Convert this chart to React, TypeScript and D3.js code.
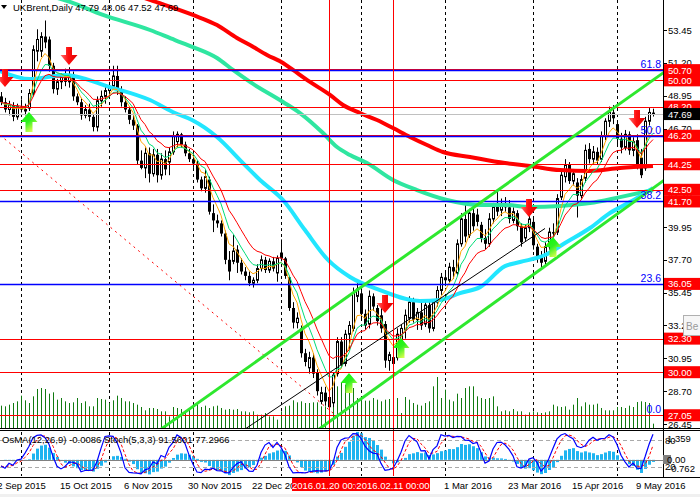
import * as d3 from "d3";

// UKBrent daily, one row per bar: open, high, low, close
const candles: [number, number, number, number][] = [
  [48.9, 49.2, 48.3, 48.5], [48.5, 48.8, 47.8, 48.0], [48.0, 48.6, 47.6, 48.3], [48.3, 48.5, 47.2, 47.5],
  [47.5, 48.4, 47.3, 48.2], [48.2, 48.7, 47.8, 48.0], [47.9, 48.4, 47.6, 48.0], [48.1, 49.4, 47.9, 49.1],
  [49.1, 52.4, 48.9, 52.1], [52.0, 53.5, 51.3, 52.8], [52.0, 53.3, 51.6, 53.0], [53.0, 54.1, 52.2, 52.6],
  [52.8, 53.0, 50.6, 51.0], [51.0, 51.2, 49.1, 49.4], [49.4, 50.1, 49.0, 49.9], [49.9, 50.5, 49.4, 50.2],
  [50.2, 50.8, 49.6, 49.9], [49.9, 50.9, 49.5, 50.4], [50.4, 50.6, 48.6, 48.9], [48.9, 49.1, 48.3, 48.5],
  [48.5, 48.8, 47.3, 47.6], [47.6, 48.3, 47.4, 48.0], [48.0, 48.4, 47.2, 47.5], [47.5, 47.7, 46.5, 46.8],
  [46.8, 48.9, 46.5, 48.6], [48.6, 49.3, 48.2, 48.9], [48.9, 49.6, 48.4, 49.3], [49.3, 49.9, 48.9, 49.6],
  [49.6, 51.0, 49.4, 50.3], [50.3, 51.0, 49.0, 49.3], [49.3, 49.6, 48.2, 48.5], [48.5, 48.9, 47.8, 48.0],
  [48.0, 48.2, 47.0, 47.3], [47.3, 47.6, 46.6, 46.9], [46.9, 47.0, 44.2, 44.5], [44.5, 45.2, 43.9, 44.0],
  [44.0, 45.4, 43.3, 45.0], [45.0, 45.4, 43.0, 43.6], [43.6, 45.3, 43.4, 44.9], [44.9, 45.3, 43.0, 43.5],
  [43.5, 45.0, 43.2, 44.6], [44.6, 45.2, 43.5, 43.9], [44.4, 45.4, 43.5, 45.1], [45.1, 46.5, 44.9, 46.2],
  [45.8, 46.5, 45.4, 46.3], [46.3, 46.4, 45.4, 45.6], [45.6, 45.8, 44.8, 45.0], [45.0, 45.3, 44.4, 44.6],
  [44.6, 45.0, 44.0, 44.3], [44.3, 44.5, 43.0, 43.2], [43.2, 43.4, 42.4, 42.6], [42.6, 43.9, 42.3, 43.4],
  [43.2, 43.4, 40.8, 41.0], [40.9, 41.5, 39.6, 40.4], [40.4, 40.8, 39.9, 40.2], [40.2, 40.4, 39.3, 39.5],
  [39.5, 39.7, 37.4, 37.7], [37.7, 38.3, 36.3, 36.9], [37.6, 39.4, 37.4, 38.3], [38.4, 38.7, 36.8, 37.5],
  [37.5, 37.8, 36.7, 36.9], [36.9, 37.2, 36.3, 36.6], [36.6, 36.9, 35.9, 36.1], [36.1, 36.5, 35.8, 36.3],
  [36.3, 37.4, 36.1, 37.1], [37.1, 38.0, 36.9, 37.7], [37.7, 37.9, 36.8, 37.0], [37.0, 37.8, 36.8, 37.6],
  [37.6, 37.9, 36.9, 37.1], [36.8, 38.0, 36.2, 37.8], [38.2, 39.1, 37.6, 37.8], [37.8, 37.9, 36.4, 36.6],
  [36.5, 36.6, 34.2, 34.4], [34.4, 34.8, 33.0, 33.4], [33.4, 34.1, 33.0, 33.7], [33.0, 33.2, 31.0, 31.3],
  [31.3, 31.6, 30.4, 30.7], [30.3, 31.4, 29.9, 31.0], [31.0, 31.3, 29.6, 29.9], [30.0, 30.2, 28.4, 28.7],
  [28.0, 29.0, 27.8, 28.6], [28.6, 29.0, 27.7, 28.0], [28.3, 28.7, 27.3, 27.6], [27.9, 30.0, 27.6, 29.8],
  [29.9, 32.4, 29.7, 32.1], [32.1, 32.4, 30.3, 30.5], [30.6, 32.9, 30.4, 32.6], [32.6, 33.5, 31.6, 33.2],
  [33.0, 35.8, 32.8, 35.4], [35.2, 36.1, 34.8, 35.7], [35.4, 35.7, 33.6, 34.0], [34.0, 34.3, 32.9, 33.2],
  [33.3, 35.6, 33.0, 35.2], [35.2, 35.4, 34.2, 34.5], [34.4, 34.6, 33.2, 33.5], [33.9, 34.4, 32.7, 33.0],
  [33.3, 33.5, 30.3, 30.8], [30.8, 31.4, 30.1, 31.2], [30.6, 31.2, 30.0, 31.0], [31.0, 33.0, 30.8, 32.6],
  [32.1, 33.3, 31.9, 33.0], [32.9, 34.3, 32.3, 33.9], [33.7, 35.2, 33.4, 34.8], [34.8, 35.1, 33.4, 33.6],
  [33.6, 34.4, 32.9, 34.1], [34.1, 34.8, 32.9, 33.2], [33.3, 34.9, 33.1, 34.6], [34.6, 34.8, 32.7, 33.0],
  [33.0, 35.0, 32.8, 34.8], [34.8, 35.9, 34.5, 35.6], [35.6, 36.8, 35.3, 36.5], [36.5, 37.0, 35.9, 36.3],
  [36.3, 37.5, 36.1, 37.2], [37.2, 37.7, 36.4, 36.9], [36.8, 39.1, 36.6, 38.8], [38.8, 40.9, 38.6, 40.5],
  [40.5, 41.5, 38.9, 39.3], [39.4, 41.2, 39.2, 40.9], [40.9, 41.3, 39.7, 40.0], [40.8, 41.2, 40.0, 40.3],
  [40.1, 40.3, 38.9, 39.2], [39.2, 39.8, 38.4, 38.8], [38.8, 40.9, 38.6, 40.5], [40.5, 41.6, 40.2, 41.3],
  [41.6, 42.5, 40.7, 41.0], [41.1, 41.9, 40.7, 41.5], [41.5, 42.0, 41.0, 41.3], [41.3, 41.8, 40.2, 40.5],
  [40.4, 41.3, 40.2, 41.0], [40.9, 41.1, 39.7, 40.0], [40.0, 40.2, 38.6, 38.9], [39.2, 40.1, 39.0, 39.9],
  [39.9, 40.7, 39.6, 40.5], [40.3, 40.6, 38.4, 38.7], [38.6, 38.8, 37.5, 37.9], [38.0, 38.3, 37.2, 37.5],
  [37.6, 38.9, 37.4, 38.6], [38.6, 39.9, 38.4, 39.6], [39.6, 40.2, 39.0, 39.5], [39.6, 42.2, 39.4, 41.9],
  [42.0, 43.8, 41.8, 43.5], [43.4, 44.6, 43.0, 44.2], [44.2, 44.4, 42.9, 43.1], [43.1, 43.9, 42.8, 43.6],
  [43.0, 43.3, 40.6, 42.1], [42.1, 43.5, 41.9, 43.2], [43.3, 45.6, 43.0, 45.2], [45.3, 45.7, 44.3, 44.6],
  [44.6, 45.5, 44.2, 45.1], [45.1, 45.4, 44.2, 44.5], [44.6, 46.5, 44.4, 46.2], [46.2, 47.4, 45.9, 47.2],
  [47.2, 48.2, 46.8, 47.8], [47.8, 48.3, 47.0, 47.4], [47.0, 47.2, 45.6, 46.0], [46.0, 46.4, 45.0, 45.4],
  [45.4, 46.6, 45.2, 46.3], [46.3, 46.5, 44.9, 45.2], [45.2, 46.1, 44.8, 45.8], [45.9, 46.3, 43.9, 44.1],
  [44.7, 45.3, 43.3, 43.5], [44.0, 47.5, 43.8, 47.2], [47.2, 48.1, 46.9, 47.8], [47.79, 48.06, 47.52, 47.69],
];

// tick volume, one per bar
const volumes = [
  67, 65, 70, 75, 80, 97, 83, 75, 95, 117, 120, 117, 103, 107, 85, 90, 80, 75, 77, 90,
  75, 80, 65, 65, 90, 87, 85, 75, 83, 97, 90, 80, 80, 75, 70, 63, 53, 60, 60, 57,
  50, 50, 35, 63, 60, 57, 47, 55, 65, 75, 63, 67, 60, 65, 67, 60, 55, 57, 55, 57,
  50, 50, 47, 50, 40, 40, 45, 35, 35, 25, 50, 65, 67, 83, 77, 80, 75, 75, 77, 77,
  65, 65, 75, 120, 125, 135, 130, 130, 120, 90, 85, 82, 82, 90, 85, 80, 85, 87, 90, 90,
  45, 93, 85, 75, 70, 67, 75, 80, 125, 153, 90, 115, 85, 80, 103, 90, 120, 125, 125, 95,
  90, 87, 90, 95, 65, 50, 53, 50, 57, 50, 50, 40, 47, 50, 47, 45, 47, 50, 70, 65,
  63, 65, 55, 70, 90, 65, 77, 70, 70, 73, 60, 53, 53, 53, 63, 63, 60, 67, 63, 78,
  80, 78, 75, 13,
];

// slow moving averages, sampled as [bar, price]
const ma200: [number, number][] = [
  [29.75, 56.23], [37.25, 55.51], [48, 54.48], [54, 53.79], [59, 52.9], [62.25, 52.42], [66.5, 51.74],
  [70.5, 51.19], [73, 50.71], [77.25, 49.89], [82.25, 49.0], [85.5, 48.31], [89.75, 47.76], [94, 47.28],
  [98, 46.73], [102.25, 46.12], [106.5, 45.57], [110.5, 45.09], [117.25, 44.75], [126, 44.33],
  [132.25, 44.13], [139.75, 43.85], [147.25, 43.79], [154.75, 43.99], [163, 44.13],
];
const ma100: [number, number][] = [
  [9.75, 55.99], [17.25, 55.37], [25.5, 54.48], [37.25, 53.45], [43.5, 52.76], [48, 52.28], [54, 51.53],
  [58, 50.71], [62.25, 49.89], [70.5, 48.52], [74.75, 47.76], [80.5, 46.39], [84, 45.43], [87.25, 44.88],
  [91.5, 44.33], [98, 43.17], [104, 42.48], [111.5, 41.8], [119.75, 41.46], [126, 41.46], [132.25, 41.32],
  [139.75, 41.39], [147.25, 41.59], [154.75, 42.0], [163, 42.48],
];
const ma50: [number, number][] = [
  [-0.25, 50.64], [7.25, 50.09], [16, 50.37], [27.25, 49.54], [37.25, 48.65], [43.5, 47.76], [47.75, 47.28],
  [54, 46.12], [60.5, 44.33], [64.75, 43.17], [70.5, 41.8], [76, 39.74], [81.75, 37.69], [87.25, 36.52],
  [94.75, 35.63], [104.75, 34.88], [109.75, 34.94], [114.75, 35.42], [119.75, 35.83], [126, 37.27],
  [129.75, 37.55], [136, 38.03], [141, 38.85], [147.25, 39.88], [152.25, 40.91], [157.25, 41.66], [163, 42.62],
];

// drawn lines, ends as [bar, price]
const upperChannel: [number, number][] = [[40, 26.1], [166, 50.6]];
const lowerChannel: [number, number][] = [[79.5, 26.1], [166, 43.2]];
const thinTrend: [number, number][] = [[61, 26.1], [136, 39.85]];
const dashedTrend: [number, number][] = [[-0.25, 46.25], [83, 27.2]];

const redLevels = [50.7, 50.0, 48.2, 46.2, 44.25, 42.5, 32.3, 30.0, 27.05];
const blueLevels = [50.7, 46.2, 41.7, 36.05];
const boxedLevels = [50.7, 50.0, 48.2, 46.2, 44.25, 42.5, 41.7, 36.05, 32.3, 30.0, 27.05];
const fibTexts: [string, number][] = [["61.8", 50.7], ["50.0", 46.2], ["38.2", 41.7], ["23.6", 36.05], ["0.0", 27.05]];
const priceTicks = [26.45, 28.7, 30.95, 33.2, 35.45, 37.7, 39.95, 42.2, 44.45, 46.7, 48.95, 51.2, 53.45];
const lastPrice = 47.69;

const dateLabels: [number, string][] = [
  [-2, "22 Sep 2015"], [15, "15 Oct 2015"], [31, "6 Nov 2015"], [47, "30 Nov 2015"], [63, "22 Dec 2015"],
  [111, "1 Mar 2016"], [127, "23 Mar 2016"], [143, "15 Apr 2016"], [159, "9 May 2016"],
];
const markedDates: [number, string][] = [[82, "2016.01.20 00:00"], [98, "2016.02.11 00:00"]];
const monthStarts = [5, 27, 48, 70, 90, 111, 133, 154];

const downArrows: [number, number][] = [[1, 49.54], [17, 51.05], [96, 34.05], [132, 40.63], [159, 46.73]];
const upArrows: [number, number][] = [[7, 47.83], [87, 29.94], [100, 32.34], [138, 39.26]];

const FONT = "'Liberation Sans', Arial, sans-serif";
const PLOT_R = 663;
const MAIN_B = 428;
const OSC_T = 431;
const OSC_B = 476;

function ema(vals: number[], n: number) {
  const a = 2 / (n + 1);
  let e = vals[0];
  return vals.map((v, i) => (i === 0 ? e : (e = e + a * (v - e))));
}

export default function App() {
  const x = d3.scaleLinear().domain([0, candles.length - 1]).range([1, 653]);
  const y = d3.scaleLinear().domain([26.45, 53.45]).range([424, 30]);
  const yStoch = d3.scaleLinear().domain([0, 100]).range([OSC_B, OSC_T]);
  const yOsma = d3.scaleLinear().domain([-0.762, 1.359]).range([OSC_B, OSC_T]);

  const closes = candles.map((c) => c[3]);
  const highs = candles.map((c) => c[1]);
  const lows = candles.map((c) => c[2]);

  const fast = [
    { vals: ema(closes, 5), color: "#ffa500" },
    { vals: ema(closes, 8), color: "#00dd77" },
    { vals: ema(closes, 13), color: "#ff0000" },
  ];

  // OsMA(12,26,9)
  const e12 = ema(closes, 12);
  const e26 = ema(closes, 26);
  const macd = e12.map((v, i) => v - e26[i]);
  const sig = macd.map((_, i) => d3.mean(macd.slice(Math.max(0, i - 8), i + 1)) as number);
  const osma = macd.map((v, i) => v - sig[i]);

  // Stoch(5,3,3)
  const stK = closes.map((_, i) => {
    let num = 0;
    let den = 0;
    for (let j = Math.max(0, i - 2); j <= i; j++) {
      const lo = d3.min(lows.slice(Math.max(0, j - 4), j + 1)) as number;
      const hi = d3.max(highs.slice(Math.max(0, j - 4), j + 1)) as number;
      num += closes[j] - lo;
      den += hi - lo;
    }
    return den ? (100 * num) / den : 50;
  });
  const stD = stK.map((_, i) => d3.mean(stK.slice(Math.max(0, i - 2), i + 1)) as number);

  const pxLine = d3.line<number>().x((_, i) => x(i)).y((v) => y(v));
  const sampleLine = d3
    .line<[number, number]>()
    .x((d) => x(d[0]))
    .y((d) => y(d[1]));
  const segment = (pts: [number, number][]) => sampleLine.curve(d3.curveLinear)(pts) as string;
  const smooth = (pts: [number, number][]) => sampleLine.curve(d3.curveMonotoneX)(pts) as string;
  const stochLine = d3.line<number>().x((_, i) => x(i)).y((v) => yStoch(v));

  const crisp = (v: number) => Math.round(v) + 0.5;

  const downArrow = (cx: number, ty: number) =>
    `M${cx - 3},${ty - 18}H${cx + 3}V${ty - 10}H${cx + 8.5}L${cx},${ty}L${cx - 8.5},${ty - 10}H${cx - 3}Z`;
  const upArrow = (cx: number, ty: number) =>
    `M${cx},${ty}L${cx + 8.5},${ty + 10}H${cx + 3.5}V${ty + 20}H${cx - 3.5}V${ty + 10}H${cx - 8.5}Z`;

  return (
    <div style={{ position: "fixed", left: 0, top: 0 }}>
      <svg width={700} height={497} style={{ display: "block", background: "#fff" }} fontFamily={FONT}>
        <defs>
          <clipPath id="main">
            <rect x={0} y={0} width={PLOT_R} height={MAIN_B} />
          </clipPath>
          <clipPath id="osc">
            <rect x={0} y={OSC_T} width={PLOT_R} height={OSC_B - OSC_T} />
          </clipPath>
          <linearGradient id="redArr" x1="0" y1="0" x2="1" y2="0">
            <stop offset="0" stopColor="#ff7070" />
            <stop offset="0.45" stopColor="#ff1010" />
            <stop offset="1" stopColor="#e00000" />
          </linearGradient>
          <linearGradient id="greenArr" x1="0" y1="0" x2="0.6" y2="1">
            <stop offset="0" stopColor="#00ff00" />
            <stop offset="0.55" stopColor="#30f020" />
            <stop offset="1" stopColor="#d8ff50" />
          </linearGradient>
        </defs>

        {/* month grid */}
        {monthStarts.map((i) => (
          <line key={i} x1={crisp(x(i))} x2={crisp(x(i))} y1={0} y2={OSC_B} stroke="#000" strokeDasharray="3,3" />
        ))}

        <g clipPath="url(#main)">
          {/* volumes */}
          {volumes.map((v, i) => (
            <line key={i} x1={crisp(x(i))} x2={crisp(x(i))} y1={MAIN_B} y2={MAIN_B - v / 3} stroke="#107a10" />
          ))}

          {/* candles */}
          {candles.map(([o, h, l, c], i) => {
            const cx = Math.round(x(i));
            const up = c >= o;
            const top = y(Math.max(o, c));
            const bh = Math.max(1, y(Math.min(o, c)) - top);
            return (
              <g key={i}>
                <line x1={cx + 0.5} x2={cx + 0.5} y1={y(h)} y2={y(l)} stroke="#000" />
                {up ? (
                  <rect x={cx - 0.5} y={top} width={2} height={bh} fill="#fff" stroke="#000" />
                ) : (
                  <rect x={cx - 1} y={top} width={3} height={bh} fill="#000" />
                )}
              </g>
            );
          })}

          {/* slow averages */}
          <path d={smooth(ma200)} fill="none" stroke="#ff0000" strokeWidth={4} />
          <path d={smooth(ma100)} fill="none" stroke="#2fe6a0" strokeWidth={4} />
          <path d={smooth(ma50)} fill="none" stroke="#22e6ff" strokeWidth={4} />

          {/* fast averages */}
          {fast.map((m) => (
            <path key={m.color} d={pxLine(m.vals) as string} fill="none" stroke={m.color} strokeWidth={1} />
          ))}

          {/* levels */}
          <line x1={0} x2={PLOT_R} y1={crisp(y(lastPrice))} y2={crisp(y(lastPrice))} stroke="#c0c0c0" />
          {redLevels.map((p) => {
            const yy = Math.round(y(p)) + (blueLevels.includes(p) ? -0.5 : 0.5);
            return <line key={p} x1={0} x2={PLOT_R} y1={yy} y2={yy} stroke="#ff0000" />;
          })}
          {blueLevels.map((p) => (
            <line key={p} x1={0} x2={PLOT_R} y1={crisp(y(p))} y2={crisp(y(p))} stroke="#0000ff" strokeWidth={1.3} />
          ))}

          {/* trend lines */}
          <path d={segment(dashedTrend)} stroke="#ff0000" strokeDasharray="2,4" fill="none" />
          <path d={segment(thinTrend)} stroke="#000" strokeWidth={1} fill="none" />
          <path d={segment(upperChannel)} stroke="#2ee82e" strokeWidth={3} fill="none" />
          <path d={segment(lowerChannel)} stroke="#2ee82e" strokeWidth={3} fill="none" />

          {/* fibo texts */}
          {fibTexts.map(([t, p]) => (
            <text key={t} x={661} y={y(p) - 2} textAnchor="end" fontSize={10.5} fill="#0000ff">
              {t}
            </text>
          ))}

          {/* signal arrows */}
          {downArrows.map(([i, p]) => (
            <path key={`d${i}`} d={downArrow(x(i), y(p))} fill="url(#redArr)" />
          ))}
          {upArrows.map(([i, p]) => (
            <path key={`u${i}`} d={upArrow(x(i), y(p))} fill="url(#greenArr)" />
          ))}
        </g>

        {/* header */}
        <path d="M1,5H7L4,9Z" fill="#000" />
        <text x={13} y={11} fontSize={9.5} fill="#000">
          UKBrent,Daily  47.79 48.06 47.52 47.69
        </text>

        {/* oscillator pane */}
        <g clipPath="url(#osc)">
          {osma.map((v, i) => {
            const y0 = yOsma(0);
            const y1 = yOsma(v);
            return (
              <rect key={i} x={Math.round(x(i)) - 1} y={Math.min(y0, y1)} width={3} height={Math.abs(y1 - y0)} fill="#1eb4f0" />
            );
          })}
          <line x1={0} x2={PLOT_R} y1={crisp(yStoch(80))} y2={crisp(yStoch(80))} stroke="#aaa" strokeDasharray="4,3" />
          <line x1={0} x2={PLOT_R} y1={crisp(yStoch(20))} y2={crisp(yStoch(20))} stroke="#aaa" strokeDasharray="4,3" />
          <line x1={0} x2={PLOT_R} y1={crisp(yOsma(0))} y2={crisp(yOsma(0))} stroke="#808080" />
          <path d={stochLine(stD) as string} fill="none" stroke="#ff0000" strokeDasharray="3,2" />
          <path d={stochLine(stK) as string} fill="none" stroke="#0000ff" strokeWidth={1.2} />
        </g>
        <text x={2} y={443} fontSize={9.5} fill="#000">
          OsMA(12,26,9) -0.0086  Stoch(5,3,3) 91.5601 77.2966
        </text>

        {/* vertical markers */}
        {markedDates.map(([i]) => (
          <line key={i} x1={crisp(x(i))} x2={crisp(x(i))} y1={0} y2={OSC_B} stroke="#ff0000" />
        ))}

        {/* frames */}
        <line x1={0} x2={700} y1={MAIN_B + 0.5} y2={MAIN_B + 0.5} stroke="#000" />
        <line x1={0} x2={700} y1={OSC_T - 0.5} y2={OSC_T - 0.5} stroke="#000" />
        <line x1={0} x2={700} y1={OSC_B + 1.5} y2={OSC_B + 1.5} stroke="#000" />
        <line x1={PLOT_R + 0.5} x2={PLOT_R + 0.5} y1={0} y2={OSC_B + 1} stroke="#000" />

        {/* price axis */}
        {priceTicks.map((p) => (
          <g key={p}>
            <line x1={PLOT_R} x2={PLOT_R + 4} y1={crisp(y(p))} y2={crisp(y(p))} stroke="#000" />
            <text x={668} y={y(p) + 3.5} fontSize={9.5} fill="#000">
              {p.toFixed(2)}
            </text>
          </g>
        ))}
        {boxedLevels.map((p) => (
          <g key={p}>
            <rect x={664} y={y(p) - 6} width={36} height={12} fill="#ff0000" />
            <text x={668} y={y(p) + 3.5} fontSize={9.5} fill="#fff">
              {p.toFixed(2)}
            </text>
          </g>
        ))}
        <rect x={664} y={y(lastPrice) - 6} width={36} height={12} fill="#000" />
        <text x={668} y={y(lastPrice) + 3.5} fontSize={9.5} fill="#fff">
          {lastPrice.toFixed(2)}
        </text>
        <rect x={683.5} y={315.5} width={20} height={20} fill="#f6f6f6" stroke="#b0b0b0" />
        <text x={686} y={330} fontSize={10} fill="#999">
          Be
        </text>

        {/* oscillator axis */}
        <text x={667} y={442} fontSize={9.5} fill="#000">1.359</text>
        <text x={665} y={444} fontSize={9.5} fill="#000">80</text>
        <rect x={663} y={455} width={8} height={9} fill="#808080" />
        <text x={667} y={463} fontSize={9.5} fill="#000">0.00</text>
        <text x={665} y={470} fontSize={9.5} fill="#000">20</text>
        <text x={668} y={472} fontSize={9.5} fill="#000">-0.762</text>

        {/* time axis */}
        {dateLabels.map(([i, t]) => (
          <text key={t} x={x(i) - 1} y={489} fontSize={9.5} fill="#000">
            {t}
          </text>
        ))}
        {markedDates.map(([i, t]) => (
          <g key={t}>
            <rect x={x(i) - 37} y={478} width={74} height={13} fill="#ff0000" />
            <text x={x(i)} y={488.5} fontSize={9.5} fill="#fff" textAnchor="middle">
              {t}
            </text>
          </g>
        ))}
        <rect x={0} y={494} width={700} height={3} fill="#f0f0f0" />
      </svg>
    </div>
  );
}
